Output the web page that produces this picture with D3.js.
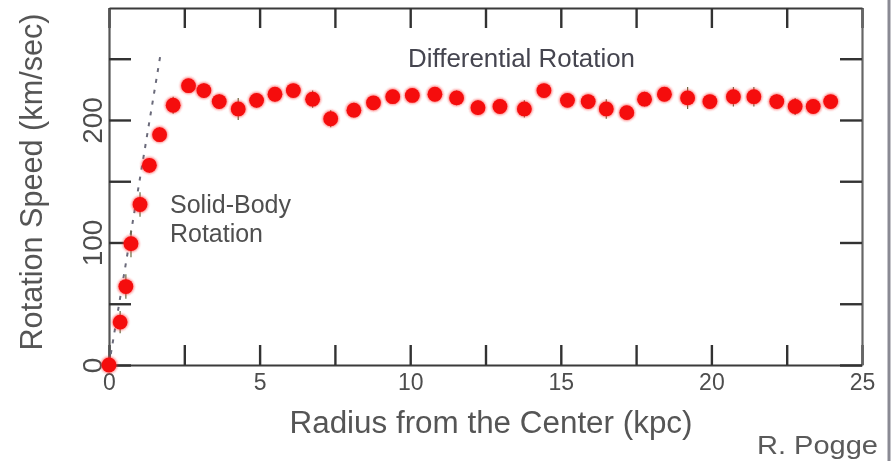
<!DOCTYPE html>
<html>
<head>
<meta charset="utf-8">
<script src="https://cdn.jsdelivr.net/npm/d3@7"></script>
<style>
  body { margin: 0; background: #fff; }
  svg { display: block; font-family: "Liberation Sans", Arial, sans-serif; }
</style>
</head>
<body>
<svg id="chart" width="892" height="461"></svg>
<script>
// radius from the center (kpc) and rotation speed (km/sec)
const radius = [0, 0.37, 0.56, 0.73, 1.03, 1.34, 1.68, 2.13, 2.64, 3.15, 3.66, 4.29, 4.90, 5.51,
  6.12, 6.76, 7.36, 8.13, 8.78, 9.42, 10.07, 10.82, 11.54, 12.25, 12.98, 13.79, 14.44, 15.22,
  15.91, 16.51, 17.19, 17.78, 18.44, 19.21, 19.95, 20.73, 21.41, 22.17, 22.78, 23.38, 23.96];
const speed = [0, 35, 64, 99, 131, 163, 188, 212, 228, 224, 215, 209, 216, 221,
  224, 217, 201, 208, 214, 219, 220, 221, 218, 210, 211, 209, 224, 216,
  215, 209, 206, 217, 221, 218, 215, 219, 219, 215, 211, 211, 215];
const speedErr = [2, 9, 10, 11, 10, 6, 6, 7, 5, 6, 6, 9, 6, 6,
  5, 7, 7, 6, 5, 5, 5, 5, 6, 6, 5, 7, 5, 5,
  5, 8, 5, 6, 5, 9, 5, 8, 8, 6, 7, 5, 5];

// dashed solid-body line
const solidR = [0, 1.7];
const solidV = [0, 252];

const xTicks = [0, 2.5, 5, 7.5, 10, 12.5, 15, 17.5, 20, 22.5, 25];
const yTicks = [0, 50, 100, 150, 200, 250];

function drawChart() {
  const svg = d3.select('#chart');
  const x = d3.scaleLinear().domain([0, 25]).range([109, 862]);
  const y = d3.scaleLinear().domain([0, 291.4]).range([365, 8]);

  // soft video-frame look
  const defs = svg.append('defs');
  defs.append('filter').attr('id', 'soft')
    .append('feGaussianBlur').attr('stdDeviation', 0.6);
  defs.append('filter').attr('id', 'glow')
    .attr('x', '-50%').attr('y', '-50%').attr('width', '200%').attr('height', '200%')
    .append('feGaussianBlur').attr('stdDeviation', 1.2);

  const root = svg.append('g').attr('filter', 'url(#soft)');

  // edge of the slide on the right
  root.append('line')
    .attr('x1', 889).attr('x2', 889).attr('y1', 0).attr('y2', 461)
    .attr('stroke', '#8a8a94').attr('stroke-width', 3);

  // 1. Axes (frame with inward ticks)
  function styleAxis(g, color) {
    g.select('.domain').attr('stroke', color).attr('stroke-width', 2.2).attr('fill', 'none');
    g.selectAll('.tick line').attr('stroke', '#333').attr('stroke-width', 2.4);
  }

  const axisB = root.append('g')
    .attr('transform', `translate(0,${y(0)})`)
    .call(d3.axisBottom(x).tickValues(xTicks).tickSizeInner(-20).tickSizeOuter(0).tickPadding(9)
      .tickFormat(d => d % 5 === 0 ? d : ''));
  styleAxis(axisB, '#3a3a3a');
  axisB.selectAll('text').attr('font-size', 23).attr('fill', '#4d4d4d');

  const axisT = root.append('g')
    .attr('transform', `translate(0,${y.range()[1]})`)
    .call(d3.axisTop(x).tickValues(xTicks).tickSizeInner(-20).tickSizeOuter(0).tickFormat(''));
  styleAxis(axisT, '#3a3a3a');

  const axisL = root.append('g')
    .attr('transform', `translate(${x(0)},0)`)
    .call(d3.axisLeft(y).tickValues(yTicks).tickSizeInner(-22).tickSizeOuter(0)
      .tickFormat(d => d % 100 === 0 ? d : ''));
  styleAxis(axisL, '#555');
  axisL.selectAll('text')
    .attr('transform', 'rotate(-90)')
    .attr('x', 0).attr('y', -7).attr('dy', 0)
    .attr('text-anchor', 'middle')
    .attr('font-size', 28).attr('fill', '#4d4d4d');

  const axisR = root.append('g')
    .attr('transform', `translate(${x(25)},0)`)
    .call(d3.axisRight(y).tickValues(yTicks).tickSizeInner(-22).tickSizeOuter(0).tickFormat(''));
  styleAxis(axisR, '#666');

  // 2. Solid-body dashed line
  const line = d3.line().x(d => x(d[0])).y(d => y(d[1]));
  root.append('path')
    .attr('d', line(d3.zip(solidR, solidV)))
    .attr('fill', 'none')
    .attr('stroke', '#6a6a7a')
    .attr('stroke-width', 2)
    .attr('stroke-dasharray', '4 7');

  // 3. Data points with small error bars
  const pts = d3.range(radius.length).map(i => ({ r: radius[i], v: speed[i], e: speedErr[i] }));

  root.append('g').selectAll('line')
    .data(pts)
    .join('line')
    .attr('x1', d => x(d.r)).attr('x2', d => x(d.r))
    .attr('y1', d => y(d.v - d.e)).attr('y2', d => y(d.v + d.e))
    .attr('stroke', '#6a6a40').attr('stroke-width', 1.2);

  const dots = root.append('g');
  dots.selectAll('circle.halo')
    .data(pts)
    .join('circle')
    .attr('class', 'halo')
    .attr('cx', d => x(d.r)).attr('cy', d => y(d.v))
    .attr('r', 8.4)
    .attr('fill', '#ff3030')
    .attr('opacity', 0.6)
    .attr('filter', 'url(#glow)');
  dots.selectAll('circle.dot')
    .data(pts)
    .join('circle')
    .attr('class', 'dot')
    .attr('cx', d => x(d.r)).attr('cy', d => y(d.v))
    .attr('r', 7.4)
    .attr('fill', '#f50c0c');

  // 4. Titles and annotations
  root.append('text')
    .attr('x', 491).attr('y', 433)
    .attr('text-anchor', 'middle')
    .attr('font-size', 31).attr('fill', '#555')
    .attr('textLength', 403).attr('lengthAdjust', 'spacingAndGlyphs')
    .text('Radius from the Center (kpc)');

  root.append('text')
    .attr('transform', 'translate(42,182) rotate(-90)')
    .attr('text-anchor', 'middle')
    .attr('font-size', 31).attr('fill', '#555')
    .attr('textLength', 337).attr('lengthAdjust', 'spacingAndGlyphs')
    .text('Rotation Speed (km/sec)');

  root.append('text')
    .attr('x', 408).attr('y', 67)
    .attr('font-size', 26).attr('fill', '#44444f')
    .attr('textLength', 227).attr('lengthAdjust', 'spacingAndGlyphs')
    .text('Differential Rotation');

  const solid = root.append('text')
    .attr('font-size', 25).attr('fill', '#505050');
  solid.append('tspan').attr('x', 170).attr('y', 213)
    .attr('textLength', 121).attr('lengthAdjust', 'spacingAndGlyphs')
    .text('Solid-Body');
  solid.append('tspan').attr('x', 170).attr('y', 242)
    .attr('textLength', 93).attr('lengthAdjust', 'spacingAndGlyphs')
    .text('Rotation');

  root.append('text')
    .attr('x', 757).attr('y', 454)
    .attr('font-size', 25).attr('fill', '#5a5a5a')
    .attr('textLength', 121).attr('lengthAdjust', 'spacingAndGlyphs')
    .text('R. Pogge');
}

drawChart();
</script>
</body>
</html>
